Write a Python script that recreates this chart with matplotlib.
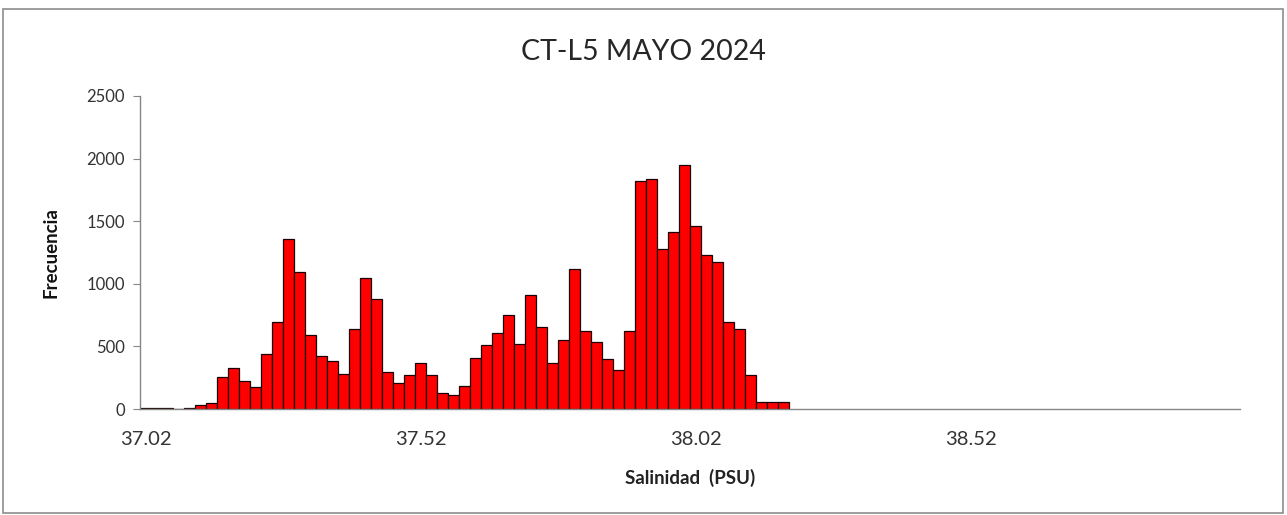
import matplotlib
matplotlib.use("Agg")
import matplotlib.pyplot as plt
from matplotlib.patches import Rectangle

# Histogram data: salinity bins (PSU) and frequencies
bin_start = 37.02
bin_width = 0.02
n_categories = 100
frequencies = [10, 10, 10, 0, 10, 30, 50, 258, 330, 226,
               173, 439, 692, 1359, 1091, 592, 423, 383, 279, 636,
               1045, 878, 295, 210, 269, 367, 269, 125, 109, 186,
               410, 508, 606, 747, 519, 907, 652, 370, 551, 1120,
               622, 537, 396, 311, 622, 1822, 1835, 1274, 1412, 1947,
               1458, 1232, 1173, 692, 636, 269, 56, 56, 56]
categories = [round(bin_start + bin_width * i, 2) for i in range(n_categories)]
tick_labels = ["37.02", "37.52", "38.02", "38.52"]
y_ticks = [0, 500, 1000, 1500, 2000, 2500]

title = "CT-L5 MAYO 2024"
xlabel = "Salinidad  (PSU)"
ylabel = "Frecuencia"

font = ["Lato", "DejaVu Sans"]
plt.rcParams["font.family"] = font

fig = plt.figure(figsize=(12.87, 5.15), dpi=100)
fig.patches.append(Rectangle((0.002, 0.004), 0.995, 0.978, transform=fig.transFigure,
                             fill=False, edgecolor="#8c8c8c", linewidth=1.2))
ax = fig.add_axes([0.1088, 0.2058, 0.9635 - 0.1088, 0.8136 - 0.2058])

x = categories[:len(frequencies)]
ax.bar(x, frequencies, width=bin_width, align="center",
       color="#ff0000", edgecolor="#1a0000", linewidth=0.9)

ax.set_xlim(bin_start - bin_width / 2, categories[-1] + bin_width / 2)
ax.set_ylim(0, 2500)
ax.set_yticks(y_ticks)
ax.set_yticklabels([str(v) for v in y_ticks])
ax.set_xticks([float(t) for t in tick_labels])
ax.set_xticklabels(tick_labels)

for s in ["top", "right"]:
    ax.spines[s].set_visible(False)
for s in ["left", "bottom"]:
    ax.spines[s].set_color("#868686")
    ax.spines[s].set_linewidth(1.0)

ax.tick_params(axis="y", direction="out", length=5, color="#868686",
               labelsize=12, labelcolor="#333333", pad=6)
ax.tick_params(axis="x", length=0, labelsize=14.5, labelcolor="#333333", pad=16)

ax.set_xlabel(xlabel, fontsize=13.5, fontweight="bold", color="#222222", labelpad=15)
ax.set_ylabel(ylabel, fontsize=13.5, fontweight="bold", color="#111111", labelpad=19)
fig.text(0.5, 0.9, title, ha="center", va="center", fontsize=20.5, color="#262626")

fig.savefig("out.png", dpi=100)
